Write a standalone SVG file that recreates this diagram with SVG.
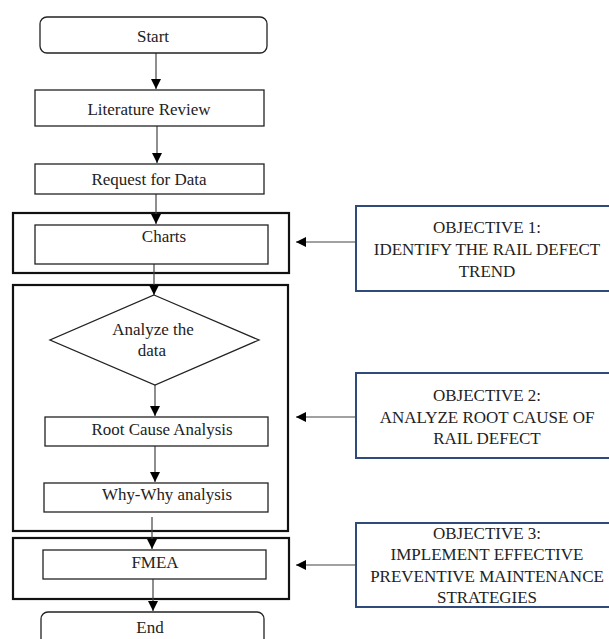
<svg xmlns="http://www.w3.org/2000/svg" width="609" height="639" viewBox="0 0 609 639">
<style>
text{font-family:"Liberation Serif","Times New Roman",serif;font-size:17px;fill:#222;text-anchor:middle}
.b{fill:#fff;stroke:#222;stroke-width:1.3}
.o{fill:none;stroke:#111;stroke-width:2.2}
.obj{fill:#fff;stroke:#2F4B7C;stroke-width:2}
.c{stroke:#444;stroke-width:1.2;fill:none;marker-end:url(#ah)}
</style>
<defs>
<marker id="ah" markerUnits="userSpaceOnUse" markerWidth="10" markerHeight="10" viewBox="0 0 10 10" refX="10" refY="5" orient="auto">
<path d="M0,0 L10,5 L0,10 Z" fill="#000"/>
</marker>
</defs>
<rect width="609" height="639" fill="#fff"/>
<g id="frames">
<rect id="frame1" class="o" x="13" y="213" width="276" height="60"/>
<rect id="frame2" class="o" x="13" y="285" width="275" height="246"/>
<rect id="frame3" class="o" x="13" y="538" width="276" height="61"/>
</g>
<g id="connectors">
<line class="c" x1="156" y1="53" x2="156" y2="89"/>
<line class="c" x1="157" y1="126" x2="157" y2="163"/>
<line class="c" x1="156" y1="194" x2="156" y2="224"/>
<line class="c" x1="154" y1="264" x2="154" y2="295"/>
<line class="c" x1="155" y1="385" x2="155" y2="416"/>
<line class="c" x1="155" y1="446" x2="155" y2="482"/>
<line class="c" x1="152" y1="517" x2="152" y2="549"/>
<line class="c" x1="153" y1="579" x2="153" y2="611"/>
<line class="c" x1="356" y1="242" x2="296" y2="242"/>
<line class="c" x1="356" y1="417" x2="296" y2="417"/>
<line class="c" x1="356" y1="565" x2="296" y2="565"/>
</g>
<g id="start"><rect class="b" x="40" y="17" width="227" height="36" rx="7"/><text x="153" y="42">Start</text></g>
<g id="literature"><rect class="b" x="35" y="90" width="229" height="36"/><text x="149" y="115">Literature Review</text></g>
<g id="request"><rect class="b" x="35" y="164" width="229" height="30"/><text x="149" y="185">Request for Data</text></g>
<g id="charts"><rect class="b" x="35" y="225" width="233" height="39"/><text x="164" y="242">Charts</text></g>
<g id="analyze"><polygon class="b" points="154,295 259,340 155,385 50,340"/><text x="153" y="335">Analyze the</text><text x="152" y="356">data</text></g>
<g id="rca"><rect class="b" x="45" y="417" width="223" height="29"/><text x="162" y="435" textLength="141" lengthAdjust="spacingAndGlyphs">Root Cause Analysis</text></g>
<g id="whywhy"><rect class="b" x="44" y="483" width="224" height="29"/><text x="167" y="500" textLength="130" lengthAdjust="spacingAndGlyphs">Why-Why analysis</text></g>
<g id="fmea"><rect class="b" x="43" y="550" width="223" height="29"/><text x="155" y="568">FMEA</text></g>
<g id="end"><rect class="b" x="41" y="612" width="223" height="40" rx="7"/><text x="150" y="633">End</text></g>
<g id="obj1"><rect class="obj" x="356" y="206" width="256" height="85"/><text x="487" y="233">OBJECTIVE 1:</text><text x="487" y="255">IDENTIFY THE RAIL DEFECT</text><text x="487" y="277">TREND</text></g>
<g id="obj2"><rect class="obj" x="356" y="373" width="256" height="85"/><text x="487" y="401">OBJECTIVE 2:</text><text x="487" y="423">ANALYZE ROOT CAUSE OF</text><text x="487" y="444">RAIL DEFECT</text></g>
<g id="obj3"><rect class="obj" x="356" y="523" width="256" height="84"/><text x="487" y="539">OBJECTIVE 3:</text><text x="487" y="560">IMPLEMENT EFFECTIVE</text><text x="487" y="582">PREVENTIVE MAINTENANCE</text><text x="487" y="603">STRATEGIES</text></g>
</svg>
